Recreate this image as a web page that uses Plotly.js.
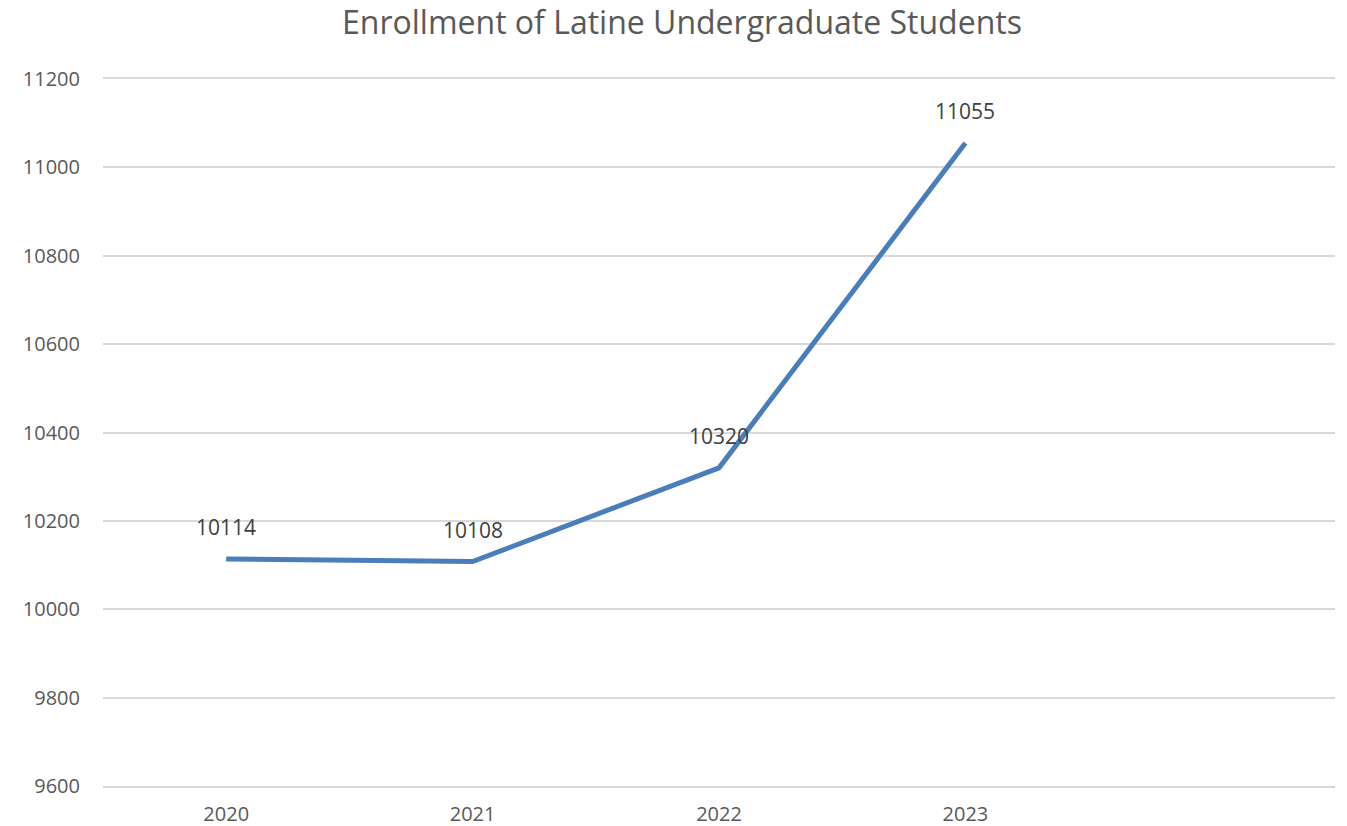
<!DOCTYPE html>
<html>
<head>
<meta charset="utf-8">
<script src="https://cdn.plot.ly/plotly-3.0.1.min.js"></script>
<style>html,body{margin:0;padding:0;background:#fff;}#chart{width:1347px;height:826px;}</style>
</head>
<body>
<div id="chart"></div>
<script>
const years = ["2020", "2021", "2022", "2023"];
const enrollment = [10114, 10108, 10320, 11055];
const yTicks = [9600, 9800, 10000, 10200, 10400, 10600, 10800, 11000, 11200];

const trace = {
  x: years,
  y: enrollment,
  type: "scatter",
  mode: "lines",
  line: {color: "#4a7ebb", width: 5},
  hoverinfo: "x+y"
};

const annotations = enrollment.map((v, i) => ({
  x: i, y: v, xref: "x", yref: "y",
  text: String(v), showarrow: false,
  yshift: 32,
  font: {family: "Open Sans", size: 21, color: "#404040"}
}));

const layout = {
  width: 1347, height: 826,
  margin: {l: 103, r: 12, t: 79, b: 40},
  paper_bgcolor: "#ffffff", plot_bgcolor: "#ffffff",
  title: {text: "Enrollment of Latine Undergraduate Students", x: 0.5063, xanchor: "center", y: 0.973, yanchor: "middle",
    font: {family: "Open Sans", size: 32, color: "#595959"}},
  showlegend: false,
  xaxis: {type: "category", categoryarray: years, range: [-0.5, 4.5], showgrid: false, zeroline: false,
    showline: true, mirror: true, linecolor: "#d9d9d9", linewidth: 1.5,
    ticks: "", tickfont: {family: "Open Sans", size: 20, color: "#595959"}, ticklabelstandoff: 9},
  yaxis: {range: [9600, 11200], tickvals: yTicks, ticktext: yTicks.map(String), showgrid: true, gridcolor: "#d9d9d9", gridwidth: 1.5,
    zeroline: false, showline: false, ticks: "", tickfont: {family: "Open Sans", size: 20, color: "#595959"}, ticklabelstandoff: 22},
  annotations: annotations
};

Plotly.newPlot("chart", [trace], layout, {displayModeBar: false});
</script>
</body>
</html>
